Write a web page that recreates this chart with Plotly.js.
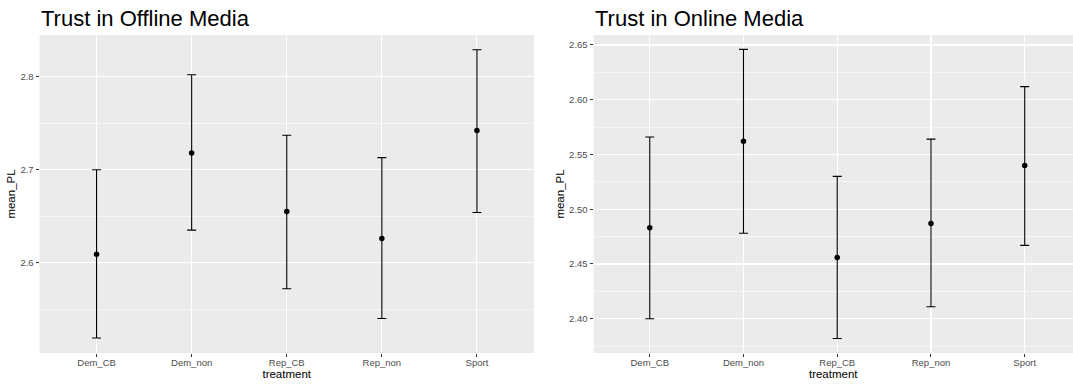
<!DOCTYPE html>
<html>
<head>
<meta charset="utf-8">
<script src="https://cdn.plot.ly/plotly-3.0.1.min.js"></script>
<style>html,body{margin:0;padding:0;background:#fff;}#chart{width:1073px;height:387px;}</style>
</head>
<body>
<div id="chart"></div>
<script>
const treatments = ["Dem_CB", "Dem_non", "Rep_CB", "Rep_non", "Sport"];

const offlineMean  = [2.609, 2.718, 2.655, 2.626, 2.742];
const offlineUpper = [2.700, 2.802, 2.737, 2.713, 2.829];
const offlineLower = [2.519, 2.635, 2.572, 2.540, 2.654];

const onlineMean  = [2.483, 2.562, 2.456, 2.487, 2.540];
const onlineUpper = [2.566, 2.646, 2.530, 2.564, 2.612];
const onlineLower = [2.400, 2.478, 2.382, 2.411, 2.467];

const titles = ["Trust in Offline Media", "Trust in Online Media"];

const W = 1073, H = 387;
const px = v => v / W;
const py = v => (H - v) / H;

function trace(means, upper, lower, xa, ya) {
  return {
    type: "scatter", mode: "markers",
    x: treatments, y: means, xaxis: xa, yaxis: ya,
    marker: {color: "#000000", size: 5.5},
    error_y: {
      type: "data", symmetric: false,
      array: upper.map((u, i) => u - means[i]),
      arrayminus: means.map((m, i) => m - lower[i]),
      color: "#000000", thickness: 1.1, width: 4.5
    },
    showlegend: false, hoverinfo: "x+y"
  };
}

const FONT = "Liberation Sans, Arial, Helvetica, sans-serif";

function xaxisDef(domain, range) {
  return {
    domain: domain, type: "category", range: range,
    showgrid: true, gridcolor: "#ffffff", gridwidth: 1.1,
    zeroline: false, showline: false,
    ticks: "outside", ticklen: 3, tickwidth: 1, tickcolor: "#333333",
    ticklabelstandoff: -2,
    tickfont: {family: FONT, size: 9.5, color: "#4d4d4d"},
    title: {text: "treatment", font: {family: FONT, size: 11.5, color: "#000000"}, standoff: 0},
    fixedrange: true
  };
}
function yaxisDef(domain, range, dtick, anchor) {
  return {
    domain: domain, range: range, anchor: anchor,
    dtick: dtick, tickformat: dtick === 0.1 ? ".1f" : ".2f",
    showgrid: true, gridcolor: "#ffffff", gridwidth: 1.1,
    minor: {dtick: dtick / 2, showgrid: true, gridcolor: "#ffffff", gridwidth: 0.55, ticks: ""},
    zeroline: false, showline: false,
    ticks: "outside", ticklen: 3, tickwidth: 1, tickcolor: "#333333",
    tickfont: {family: FONT, size: 9.5, color: "#4d4d4d"},
    title: {text: "mean_PL", font: {family: FONT, size: 11.5, color: "#000000"}, standoff: 2},
    fixedrange: true
  };
}

const ydom = [py(353), py(35)];

const data = [
  trace(offlineMean, offlineUpper, offlineLower, "x", "y"),
  trace(onlineMean, onlineUpper, onlineLower, "x2", "y2")
];

const layout = {
  width: W, height: H,
  margin: {l: 0, r: 0, t: 0, b: 0},
  paper_bgcolor: "#ffffff", plot_bgcolor: "#EBEBEB",
  font: {family: FONT},
  xaxis: Object.assign(xaxisDef([px(39.5), px(534)], [-0.6, 4.6]), {anchor: "y"}),
  yaxis: yaxisDef(ydom, [2.5029, 2.8448], 0.1, "x"),
  xaxis2: Object.assign(xaxisDef([px(593.5), 1], [-0.6, 4.515]), {anchor: "y2"}),
  yaxis2: yaxisDef(ydom, [2.3687, 2.6591], 0.05, "x2"),
  annotations: [
    {text: titles[0], xref: "paper", yref: "paper", x: px(38.5), y: py(18.5),
     xanchor: "left", yanchor: "middle", showarrow: false,
     font: {family: FONT, size: 22, color: "#000000"}},
    {text: titles[1], xref: "paper", yref: "paper", x: px(592.5), y: py(18.5),
     xanchor: "left", yanchor: "middle", showarrow: false,
     font: {family: FONT, size: 22, color: "#000000"}}
  ]
};

Plotly.newPlot("chart", data, layout, {displayModeBar: false, staticPlot: true});
</script>
</body>
</html>
